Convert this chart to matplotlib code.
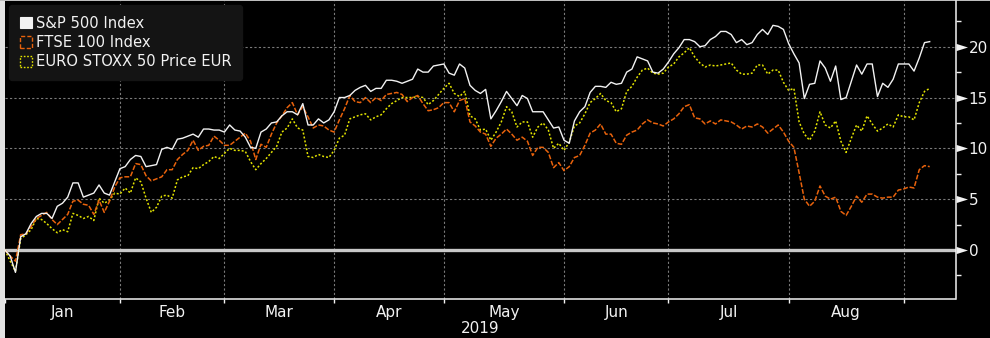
import numpy as np
import pandas as pd
import matplotlib
matplotlib.use("Agg")
import matplotlib.pyplot as plt
from matplotlib.patches import Patch, Rectangle
from matplotlib.path import Path
import matplotlib.transforms as mtransforms

# ---------------- data (% change) ----------------
spx = [0, -0.6, -2.2, 1.3, 1.6, 2.6, 3.3, 3.6, 3.6, 3.1,
       4.3, 4.6, 5.2, 6.6, 6.6, 5.2, 5.4, 5.6, 6.4, 5.6,
       5.4, 6.7, 8.0, 8.2, 8.9, 9.3, 9.2, 8.2, 8.3, 8.4,
       9.9, 10.1, 9.9, 10.9, 11.0, 11.2, 11.4, 11.1, 11.9, 11.9,
       11.8, 11.8, 11.6, 12.3, 11.8, 11.7, 11.1, 10.1, 10.0, 11.6,
       11.9, 12.5, 12.6, 13.2, 13.6, 13.6, 13.3, 14.4, 12.3, 12.3,
       12.9, 12.5, 12.8, 13.6, 15.0, 15.0, 15.2, 15.7, 16.0, 16.2,
       15.6, 15.9, 15.9, 16.7, 16.7, 16.6, 16.4, 16.6, 16.8, 17.8,
       17.5, 17.5, 18.1, 18.2, 18.3, 17.4, 17.2, 18.3, 17.9, 16.2,
       15.7, 15.4, 15.8, 12.9, 13.7, 14.6, 15.6, 14.9, 14.2, 15.2,
       14.9, 13.6, 13.6, 13.6, 12.8, 12.0, 12.1, 10.8, 10.5, 12.7,
       13.6, 14.1, 15.5, 16.1, 16.1, 16.0, 16.5, 16.3, 16.4, 17.5,
       17.8, 19.0, 18.8, 18.6, 17.5, 17.4, 17.8, 18.5, 19.3, 19.9,
       20.7, 20.7, 20.5, 20.0, 20.1, 20.7, 21.0, 21.5, 21.5, 21.2,
       20.4, 20.7, 20.2, 20.4, 21.2, 21.7, 21.2, 22.1, 22.0, 21.7,
       20.3, 19.3, 18.4, 14.9, 16.3, 16.4, 18.6, 17.9, 16.6, 18.1,
       14.8, 15.0, 16.6, 18.2, 17.3, 18.3, 18.3, 15.1, 16.4, 16.0,
       16.8, 18.3, 18.3, 18.3, 17.6, 18.9, 20.4, 20.5]

ftse = [0, -0.6, -1.1, 1.5, 1.6, 2.3, 3.1, 3.4, 3.7, 3.0,
        2.5, 3.0, 3.5, 4.8, 4.9, 4.5, 4.4, 3.5, 4.9, 3.7,
        4.8, 6.2, 7.1, 7.2, 7.2, 8.5, 8.4, 7.3, 6.8, 7.0,
        7.2, 7.9, 7.9, 8.9, 9.4, 9.8, 10.8, 9.8, 10.2, 10.3,
        11.2, 10.8, 10.3, 10.3, 10.7, 11.1, 11.5, 10.7, 8.9, 10.4,
        10.1, 11.4, 12.5, 13.2, 14.0, 14.5, 13.3, 14.1, 13.1, 12.0,
        12.3, 12.2, 11.8, 11.6, 12.8, 13.9, 15.2, 14.6, 14.5, 15.0,
        14.5, 15.0, 14.7, 15.3, 15.4, 15.5, 15.3, 14.6, 15.0, 15.2,
        14.4, 13.7, 13.8, 14.0, 14.5, 14.5, 13.6, 14.7, 14.9, 12.6,
        12.2, 11.6, 11.4, 10.2, 11.0, 11.4, 11.9, 11.4, 10.8, 11.1,
        10.7, 9.3, 10.1, 10.1, 9.6, 8.1, 8.6, 7.8, 8.2, 9.1,
        9.3, 10.3, 11.5, 11.8, 12.4, 11.4, 11.4, 10.5, 10.4, 11.3,
        11.6, 11.8, 12.4, 12.8, 12.5, 12.4, 12.2, 12.6, 12.9, 13.4,
        14.1, 14.3, 13.0, 12.9, 12.4, 12.7, 12.4, 12.8, 12.7, 12.6,
        12.3, 11.9, 12.2, 12.1, 12.4, 12.1, 11.5, 11.9, 12.3, 11.6,
        10.7, 10.1, 7.6, 5.0, 4.3, 4.8, 6.3, 5.3, 5.0, 5.2,
        3.8, 3.4, 4.3, 5.3, 4.7, 5.5, 5.5, 5.2, 5.1, 5.2,
        5.2, 5.9, 6.0, 6.2, 6.1, 7.9, 8.3, 8.2]

sx5e = [0, -1.1, -2.1, 1.1, 1.5, 2.0, 3.1, 3.0, 2.6, 2.1,
        1.7, 2.0, 1.8, 3.6, 3.4, 3.1, 3.3, 2.9, 5.1, 4.6,
        4.9, 5.6, 5.5, 6.1, 5.6, 7.1, 6.7, 5.1, 3.7, 4.2,
        5.3, 5.4, 5.1, 6.9, 7.2, 7.3, 8.1, 8.0, 8.4, 8.7,
        9.2, 9.0, 9.5, 10.0, 9.8, 9.8, 9.7, 8.7, 7.9, 8.5,
        9.0, 9.6, 10.2, 11.6, 12.0, 12.9, 12.0, 11.8, 9.2, 9.1,
        9.4, 9.2, 9.1, 9.8, 11.0, 11.3, 12.9, 13.1, 13.3, 13.4,
        12.8, 13.1, 13.3, 13.9, 14.4, 14.7, 15.0, 15.0, 15.0, 15.1,
        15.0, 14.3, 14.7, 15.3, 15.9, 16.4, 15.4, 15.1, 15.6, 13.2,
        12.9, 11.8, 11.9, 10.8, 11.6, 12.6, 14.1, 13.6, 12.1, 12.6,
        12.6, 11.1, 12.1, 12.5, 11.8, 10.0, 10.5, 9.8, 10.6, 12.2,
        12.5, 13.4, 14.5, 14.9, 15.4, 14.7, 14.5, 13.6, 13.9, 15.6,
        16.1, 17.0, 17.7, 17.9, 17.4, 17.3, 17.4, 18.0, 18.3, 19.0,
        19.4, 19.9, 19.0, 18.4, 18.0, 18.2, 18.1, 18.2, 18.3, 18.4,
        17.7, 17.3, 17.3, 17.4, 18.2, 18.2, 17.3, 17.7, 17.7, 16.5,
        15.7, 15.9, 12.6, 11.4, 10.8, 11.7, 13.6, 12.3, 12.0, 12.7,
        10.7, 9.6, 11.0, 12.3, 11.7, 13.2, 12.4, 11.7, 12.0, 12.4,
        12.1, 13.3, 13.1, 13.1, 12.8, 14.5, 15.6, 15.9]

series_names = ["S&P 500 Index", "FTSE 100 Index", "EURO STOXX 50 Price EUR"]
month_labels = ["Jan", "Feb", "Mar", "Apr", "May", "Jun", "Jul", "Aug"]
year_label = "2019"
y_major = [0, 5, 10, 15, 20]
y_minor = [-2.5, 2.5, 7.5, 12.5, 17.5, 22.5]

# trading-day axis (weekdays, skipping days all three markets were shut)
dates = pd.bdate_range("2019-01-02", "2019-09-30")
dates = dates[dates != pd.Timestamp("2019-04-19")][:len(spx)]
xs = np.arange(len(dates))
month_start = [int(np.argmax(dates.month == m)) for m in range(1, 10)]

# ---------------- styling ----------------
W, H = 990, 338
BG = "#000000"
WHITE = "#f2f2f2"
ORANGE = "#e8620c"
YELLOW = "#e3e300"
GRID = "#7a7a7a"

plt.rcParams["font.family"] = ["DejaVu Sans"]

fig = plt.figure(figsize=(W / 100, H / 100), dpi=100, facecolor=BG)
ax_l, ax_r, ax_t, ax_b = 5.0, 955.5, 1.0, 298.7
ax = fig.add_axes([ax_l / W, 1 - ax_b / H, (ax_r - ax_l) / W, (ax_b - ax_t) / H])
ax.set_facecolor(BG)

# left light strip and top border
fig.patches.append(Rectangle((0, 0), ax_l / W, 1, transform=fig.transFigure,
                             facecolor="#e3e3e3", edgecolor="none", zorder=-5))
fig.patches.append(Rectangle((0, 1 - 1.0 / H), 1, 1.0 / H, transform=fig.transFigure,
                             facecolor="#bdbdbd", edgecolor="none", zorder=-5))

px_per_idx = 5.2247
x0 = -(ax_l - 5.06) / px_per_idx
x1 = x0 + (ax_r - ax_l) / px_per_idx
ax.set_xlim(x0, x1)
ppu = 10.165
ax.set_ylim((250 - ax_b) / ppu, (250 - ax_t) / ppu)

# grid
ax.set_xticks(month_start)
ax.set_xticklabels([])
ax.set_yticks(y_major)
ax.set_yticks(y_minor, minor=True)
for m in month_start[1:]:
    ax.axvline(m, color=GRID, lw=0.8, dashes=(2.0, 2.0), zorder=1)
for v in y_major[1:]:
    ax.axhline(v, color=GRID, lw=0.8, dashes=(2.0, 2.0), zorder=1)
ax.axhline(0, color="#c8c8c8", lw=2.4, zorder=2)

# series
ax.plot(xs, sx5e, color=YELLOW, lw=1.1, dashes=(1.3, 1.3), zorder=3)
ax.plot(xs, ftse, color=ORANGE, lw=1.1, dashes=(3.2, 1.2), zorder=4)
ax.plot(xs, spx, color=WHITE, lw=1.0, zorder=5)

# spines and ticks
for s in ["top", "left"]:
    ax.spines[s].set_visible(False)
for s in ["right", "bottom"]:
    ax.spines[s].set_color(WHITE)
    ax.spines[s].set_linewidth(1.1)
ax.yaxis.tick_right()
ax.tick_params(axis="y", which="major", length=0, pad=9.5, labelsize=11, labelcolor=WHITE)
ax.tick_params(axis="y", which="minor", length=3.3, width=1.0, color=WHITE, direction="out")
ax.set_yticklabels([str(v) for v in y_major])
ax.tick_params(axis="x", which="major", length=3.0, width=1.0, color=WHITE, direction="out")
mids = [(month_start[i] + month_start[i + 1]) / 2 for i in range(len(month_labels))]
mids[0] = (x0 + month_start[1]) / 2
ax.set_xticks(mids, minor=True)
ax.set_xticklabels(month_labels, minor=True)
ax.tick_params(axis="x", which="minor", length=0, pad=4.5, labelsize=11, labelcolor=WHITE)

# triangle markers at major y ticks
tri = Path([(0, -3.6), (11.5, 0), (0, 3.6), (0, -3.6)],
           [Path.MOVETO, Path.LINETO, Path.LINETO, Path.CLOSEPOLY])
trans = mtransforms.blended_transform_factory(ax.transAxes, ax.transData)
ax.plot([1.0] * len(y_major), y_major, linestyle="none", marker=tri,
        markersize=23 * 0.72, color=WHITE, markeredgewidth=0,
        transform=trans, clip_on=False, zorder=6)

fig.text(480 / W, 1 - 328.5 / H, year_label, color=WHITE, fontsize=11,
         ha="center", va="center")

# legend
handles = [Patch(facecolor=WHITE, edgecolor=WHITE, lw=0.8),
           Patch(facecolor="none", edgecolor=ORANGE, lw=1.0, linestyle=(0, (3, 1.5))),
           Patch(facecolor="none", edgecolor=YELLOW, lw=1.0, linestyle=(0, (1.2, 1.2)))]
leg = ax.legend(handles, series_names, loc="upper left",
                bbox_to_anchor=((9.3 - ax_l) / (ax_r - ax_l), 1 - (5 - ax_t) / (ax_b - ax_t)),
                borderaxespad=0, fontsize=10.6, handlelength=0.8, handleheight=0.8,
                handletextpad=0.3, labelspacing=0.3, borderpad=0.72,
                frameon=True, fancybox=True, framealpha=1)
leg.get_frame().set_facecolor("#141414")
leg.get_frame().set_edgecolor("#141414")
for t in leg.get_texts():
    t.set_color(WHITE)
leg.set_zorder(10)

fig.savefig("out.png", dpi=100, facecolor=BG)
